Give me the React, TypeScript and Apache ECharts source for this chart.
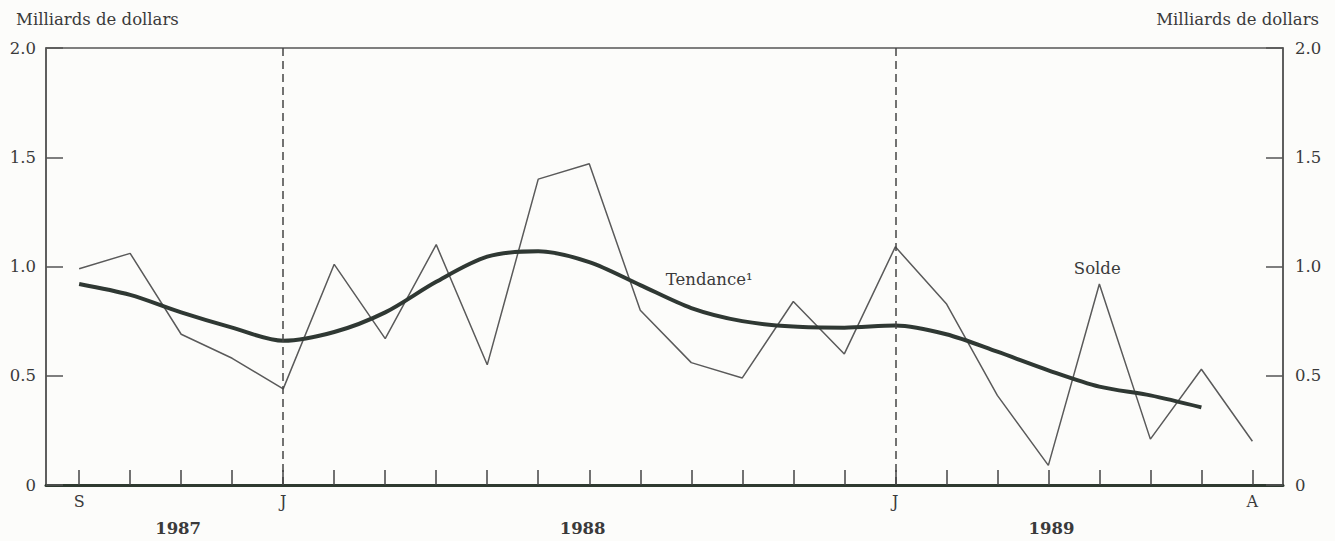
import React, { useEffect, useRef } from "react";
import * as echarts from "echarts";

const months = ["S", "O", "N", "D", "J", "F", "M", "A", "M", "J", "J", "A", "S", "O", "N", "D", "J", "F", "M", "A", "M", "J", "J", "A"];
const labeledMonths = [0, 4, 16, 23];
const years = ["1987", "1988", "1989"];
const yearCenters = [1.94, 9.87, 19.06];
const solde = [0.99, 1.06, 0.69, 0.58, 0.44, 1.01, 0.67, 1.1, 0.55, 1.4, 1.47, 0.8, 0.56, 0.49, 0.84, 0.6, 1.09, 0.83, 0.41, 0.09, 0.92, 0.21, 0.53, 0.2];
const tendance = [0.92, 0.87, 0.79, 0.72, 0.66, 0.7, 0.79, 0.93, 1.045, 1.07, 1.02, 0.915, 0.81, 0.75, 0.725, 0.72, 0.73, 0.69, 0.61, 0.525, 0.45, 0.41, 0.355];
const januaryIdx = [4, 16];

const FONT = "DejaVu Serif";
const INK = "#3a3a3a";

export default function App() {
  const ref = useRef<HTMLDivElement>(null);
  useEffect(() => {
    if (!ref.current) return;
    const chart = echarts.init(ref.current, undefined, { renderer: "svg" });
    const yFmt = (v: number) => (v === 0 ? "0" : v.toFixed(1));
    const yAxisBase = {
      type: "value",
      min: 0,
      max: 2,
      interval: 0.5,
      splitLine: { show: false },
      axisLine: { show: true, onZero: false, lineStyle: { color: "#555", width: 1.5 } },
      axisTick: { show: true, inside: true, length: 17, lineStyle: { color: "#555", width: 1.5 } },
      axisLabel: { formatter: yFmt, fontFamily: FONT, fontSize: 16.5, color: INK },
    };
    chart.setOption({
      animation: false,
      backgroundColor: "#fcfcfa",
      title: [
        { text: "Milliards de dollars", left: 11, top: 6, textStyle: { fontFamily: FONT, fontSize: 16.5, fontWeight: "normal", color: INK } },
        { text: "Milliards de dollars", right: 11, top: 6, textStyle: { fontFamily: FONT, fontSize: 16.5, fontWeight: "normal", color: INK } },
      ],
      grid: { left: 46, right: 52, top: 48, bottom: 56, show: true, borderColor: "#555", borderWidth: 1.5, backgroundColor: "transparent" },
      xAxis: [
        {
          type: "value",
          min: -0.65,
          max: 23.6,
          splitLine: { show: false },
          axisLine: { show: true, onZero: false, lineStyle: { color: "#2e3a30", width: 3 } },
          axisTick: { show: true, inside: true, length: 15, customValues: months.map((_, i) => i), lineStyle: { color: "#444", width: 1.5 } },
          axisLabel: {
            customValues: labeledMonths,
            formatter: (v: number) => months[Math.round(v)],
            fontFamily: FONT,
            fontSize: 16,
            color: INK,
            margin: 8,
          },
        },
        {
          type: "value",
          min: -0.65,
          max: 23.6,
          position: "bottom",
          splitLine: { show: false },
          axisLine: { show: false, onZero: false },
          axisTick: { show: false },
          axisLabel: {
            customValues: yearCenters,
            formatter: (v: number) => years[yearCenters.indexOf(v)] ?? "",
            fontFamily: FONT,
            fontSize: 16.5,
            fontWeight: "bold",
            color: INK,
            margin: 35,
          },
        },
      ],
      yAxis: [
        { ...yAxisBase, position: "left", axisLabel: { ...yAxisBase.axisLabel, margin: 10 } },
        { ...yAxisBase, position: "right", axisLabel: { ...yAxisBase.axisLabel, margin: 12 } },
      ],
      series: [
        {
          type: "line",
          name: "Solde",
          data: solde.map((v, i) => [i, v]),
          symbol: "none",
          lineStyle: { color: "#5a5a5a", width: 1.5 },
          markLine: {
            silent: true,
            symbol: "none",
            label: { show: false },
            lineStyle: { color: "#444", width: 1.5, type: [8, 5] },
            data: januaryIdx.map((i) => ({ xAxis: i })),
          },
          markPoint: {
            symbol: "circle",
            symbolSize: 0,
            data: [
              {
                coord: [19.5, 0.99],
                label: { show: true, position: "right", distance: 0, formatter: "Solde", fontFamily: FONT, fontSize: 16.5, color: INK },
              },
            ],
          },
        },
        {
          type: "line",
          name: "Tendance",
          data: tendance.map((v, i) => [i, v]),
          symbol: "none",
          smooth: 0.3,
          lineStyle: { color: "#2f3833", width: 4 },
          markPoint: {
            symbol: "circle",
            symbolSize: 0,
            data: [
              {
                coord: [11.5, 0.94],
                label: { show: true, position: "right", distance: 0, formatter: "Tendance¹", fontFamily: FONT, fontSize: 16.5, color: INK },
              },
            ],
          },
        },
      ],
    });
    return () => chart.dispose();
  }, []);
  return <div ref={ref} style={{ position: "fixed", left: 0, top: 0, width: 1335, height: 541 }} />;
}
